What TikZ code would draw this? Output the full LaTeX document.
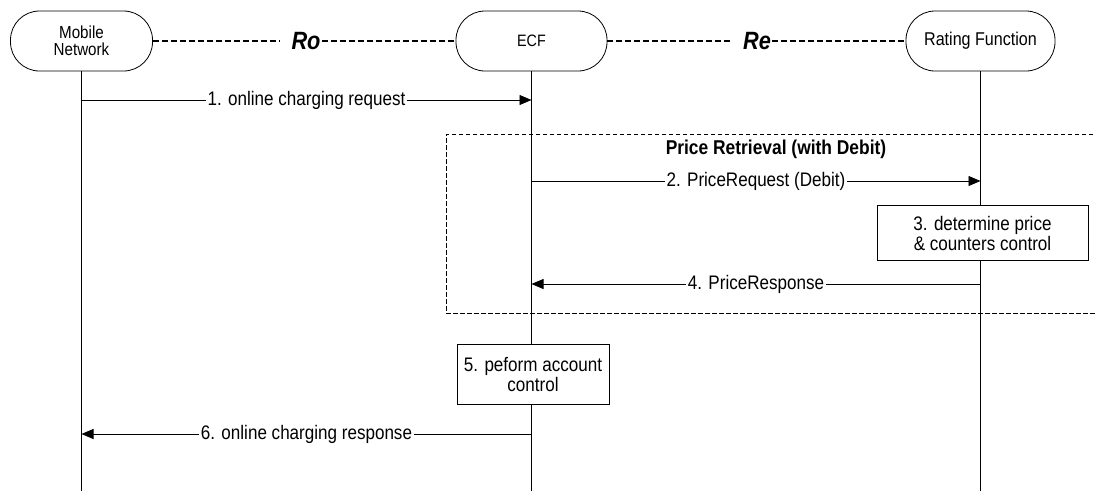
\documentclass[tikz,border=0pt]{standalone}
\usepackage{fontspec}
\setmainfont{Liberation Sans}[FakeStretch=0.87]
\usetikzlibrary{arrows.meta}
\begin{document}
\begin{tikzpicture}[x=1pt,y=-1pt,
  pill/.style={draw,line width=0.8pt,rounded corners=29pt,minimum height=60pt,align=center,inner sep=0pt},
  life/.style={line width=0.8pt},
  msg/.style={line width=0.8pt,-{Triangle[length=12pt,width=10pt]}},
  lab/.style={fill=white,inner xsep=1.5pt,inner ysep=0pt,font=\fontsize{19.6}{22}\selectfont},
  actbox/.style={draw,fill=white,line width=0.8pt,align=center,inner sep=0pt,font=\fontsize{19.6}{20}\selectfont},
  iface/.style={line width=1.8pt,dash pattern=on 6pt off 3pt},
  ilab/.style={inner sep=0pt,font=\fontsize{25}{25}\selectfont\bfseries\itshape},
  grp/.style={line width=0.8pt,dash pattern=on 4.5pt off 2.5pt}]
\useasboundingbox (0,0) rectangle (1095,491);
% participants
\node[pill,minimum width=142pt,font=\fontsize{17.4}{17}\selectfont] (mob) at (81.5,41) {Mobile\\Network};
\node[pill,minimum width=151pt,font=\fontsize{16.5}{18}\selectfont] (ecf) at (531.5,41) {ECF};
\node[pill,minimum width=149pt,font=\fontsize{18.5}{20}\selectfont] (rf) at (980.5,41) {Rating Function};
% lifeline ends
\coordinate (mobE) at (81.5,491);
\coordinate (ecfE) at (531.5,491);
\coordinate (rfE) at (980.5,491);
\draw[life] (mob.south) -- (mobE);
\draw[life] (ecf.south) -- (ecfE);
\draw[life] (rf.south) -- (rfE);
% interfaces
\node[ilab] (ro) at (306,41) {Ro};
\node[ilab] (re) at (757,41) {Re};
\draw[iface] (mob.east) -- ([xshift=-12pt]ro.west);
\draw[iface] ([xshift=1pt]ro.east) -- (ecf.west);
\draw[iface] (ecf.east) -- ([xshift=-11pt]re.west);
\draw[iface] ([xshift=1pt]re.east) -- (rf.west);
% group box
\coordinate (g1) at (1100,134);
\coordinate (g2) at (446,134);
\coordinate (g3) at (446,313);
\coordinate (g4) at (1100,313);
\draw[grp] (g1) -- (g2) -- (g3) -- (g4);
\node[font=\fontsize{20}{22}\selectfont\bfseries] (title) at (776,149) {Price Retrieval (with Debit)};
% messages
\coordinate (m1a) at (81.5,100);
\coordinate (m1b) at (531.5,100);
\draw[msg] (m1a) -- node[lab] (l1) {1. online charging request} (m1b);
\coordinate (m2a) at (531.5,181);
\coordinate (m2b) at (980.5,181);
\draw[msg] (m2a) -- node[lab] (l2) {2. PriceRequest (Debit)} (m2b);
\node[actbox,minimum width=211pt,minimum height=55pt] (b3) at (982.5,233) {3. determine price\\\& counters control};
\coordinate (m4a) at (980.5,284);
\coordinate (m4b) at (531.5,284);
\draw[msg] (m4a) -- node[lab] (l4) {4. PriceResponse} (m4b);
\node[actbox,minimum width=152pt,minimum height=60pt] (b5) at (533,374) {5. peform account\\control};
\coordinate (m6a) at (531.5,434);
\coordinate (m6b) at (81.5,434);
\draw[msg] (m6a) -- node[lab] (l6) {6. online charging response} (m6b);
\end{tikzpicture}
\end{document}
